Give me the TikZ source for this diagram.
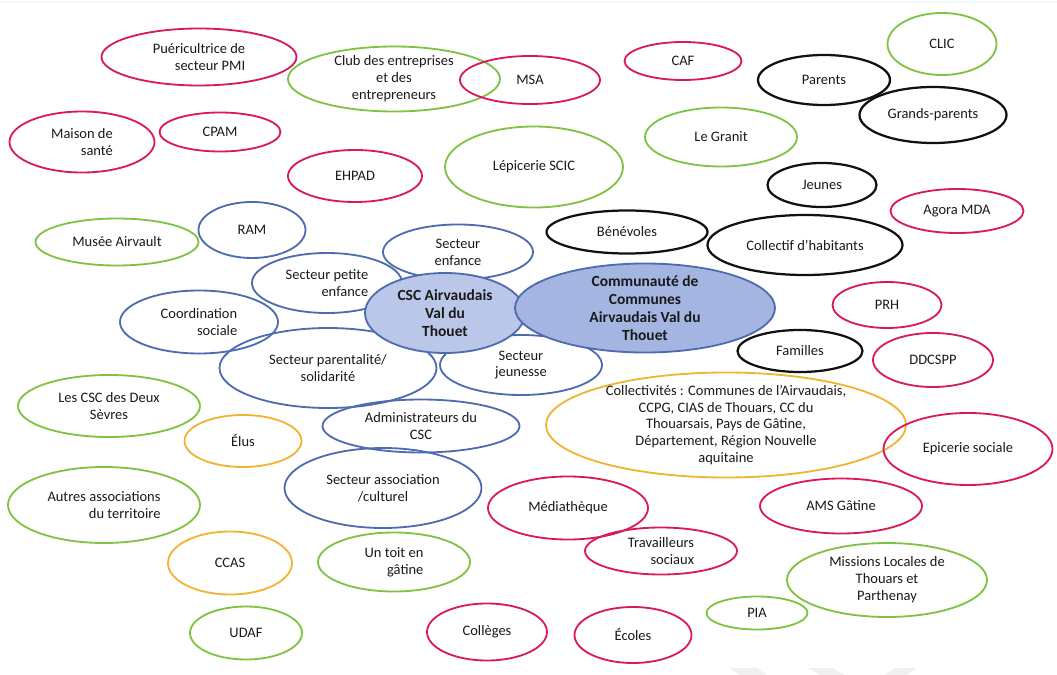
\documentclass[tikz,border=0pt]{standalone}
\usepackage{fontspec}
\setmainfont{Carlito}
\usepackage{xcolor}
\usetikzlibrary{shapes.geometric}
\definecolor{rosec}{HTML}{D9185F}
\definecolor{vertc}{HTML}{80C342}
\definecolor{bleuc}{HTML}{4F6BB0}
\definecolor{orangec}{HTML}{F0B432}
\definecolor{noirc}{HTML}{111111}
\definecolor{cscfill}{HTML}{BAC7E8}
\definecolor{ccfill}{HTML}{A3B5E0}
\tikzset{
    bubble/.style={ellipse, line width=1.3pt, inner xsep=0pt, inner ysep=-4pt, align=center, text=black!90, font=\fontsize{10.3}{12}\selectfont},
    wh/.style 2 args={minimum width=#1*0.025cm, minimum height=#2*0.025cm},
    rose/.style={bubble, draw=rosec},
    vert/.style={bubble, draw=vertc},
    bleu/.style={bubble, draw=bleuc},
    noir/.style={bubble, draw=noirc, line width=1.6pt},
    orange/.style={bubble, draw=orangec},
    core/.style={bubble, draw=bleuc, font=\fontsize{11}{12.8}\selectfont\bfseries},
}

\begin{document}
\begin{tikzpicture}[x=0.025cm, y=-0.025cm]
    \useasboundingbox (0,0) rectangle (1057,675);
    \draw[cyan!7, line width=1pt] (0,2) -- (1057,2);
    \fill[gray!12] (730,668) -- (757,668) -- (767,675) -- (740,675) -- cycle;
    \fill[gray!12] (808,668) -- (832,668) -- (845,675) -- (820,675) -- cycle;
    \fill[gray!12] (884,675) -- (895,668) -- (917,668) -- (906,675) -- cycle;

    \node[rose, wh={195}{57}, align=right] (puer) at (199,57) {Puéricultrice de\\secteur PMI};
    \node[vert, wh={212}{65}] (club) at (394,79) {Club des entreprises\\et des\\entrepreneurs};
    \node[rose, wh={140}{48}] (msa) at (530,80) {MSA};
    \node[rose, wh={117}{38}] (caf) at (683,61) {CAF};
    \node[vert, wh={109}{62}] (clic) at (942,44) {CLIC};
    \node[noir, wh={132}{50}] (parents) at (824,80) {Parents};
    \node[noir, wh={147}{56}] (grands) at (933,115) {Grands-parents};
    \node[rose, wh={145}{61}, align=right] (maison) at (82,142) {Maison de\\santé};
    \node[rose, wh={121}{39}] (cpam) at (220,132) {CPAM};
    \node[vert, wh={152}{59}] (granit) at (721,137) {Le Granit};
    \node[rose, wh={134}{52}] (ehpad) at (355,176) {EHPAD};
    \node[vert, wh={178}{81}] (scic) at (534,167) {Lépicerie SCIC};
    \node[noir, wh={109}{44}] (jeunes) at (822,185) {Jeunes};
    \node[rose, wh={133}{44}] (agora) at (957,211) {Agora MDA};
    \node[vert, wh={163}{47}] (musee) at (117,242) {Musée Airvault};
    \node[bleu, wh={107}{56}] (ram) at (252,230) {RAM};
    \node[noir, wh={161}{43}] (benevoles) at (627,232) {Bénévoles};
    \node[noir, wh={195}{60}] (collectif) at (805,245) {Collectif d’habitants};
    \node[bleu, wh={150}{55}] (enfance) at (458,252) {Secteur\\enfance};
    \node[bleu, wh={150}{60}, align=right] (petite) at (327,283) {Secteur petite\\enfance};
    \node[bleu, wh={158}{63}, align=right] (coord) at (199,322) {Coordination\\sociale};
    \node[rose, wh={109}{46}] (prh) at (887,305) {PRH};
    \node[bleu, wh={217}{80}] (parental) at (328,368) {Secteur parentalité/\\solidarité};
    \node[bleu, wh={162}{60}] (jeunesse) at (521,365) {Secteur\\jeunesse};
    \node[noir, wh={125}{42}] (familles) at (800,351) {Familles};
    \node[rose, wh={120}{54}] (ddcspp) at (933,360) {DDCSPP};
    \node[vert, wh={182}{62}] (deuxsevres) at (109,406) {Les CSC des Deux\\Sèvres};
    \node[bleu, wh={197}{53}] (admin) at (421,426) {Administrateurs du\\CSC};
    \node[orange, wh={117}{52}] (elus) at (243,441) {Élus};
    \node[orange, wh={360}{105}, inner ysep=-10pt] (collectivites) at (726,425) {Collectivités : Communes de l’Airvaudais,\\CCPG, CIAS de Thouars, CC du\\Thouarsais, Pays de Gâtine,\\Département, Région Nouvelle\\aquitaine};
    \node[rose, wh={169}{72}] (episoc) at (968,449) {Epicerie sociale};
    \node[bleu, wh={197}{80}] (asso) at (383,488) {Secteur association\\/culturel};
    \node[vert, wh={192}{76}, align=right] (autres) at (104,505) {Autres associations\\du territoire};
    \node[rose, wh={160}{63}] (media) at (568,508) {Médiathèque};
    \node[rose, wh={162}{55}] (ams) at (841,506) {AMS Gâtine};
    \node[orange, wh={124}{63}] (ccas) at (230,563) {CCAS};
    \node[vert, wh={152}{59}, align=right] (toit) at (394,562) {Un toit en\\gâtine};
    \node[rose, wh={152}{47}, align=right] (travail) at (661,551) {Travailleurs\\sociaux};
    \node[vert, wh={200}{74}] (missions) at (887,580) {Missions Locales de\\Thouars et\\Parthenay};
    \node[vert, wh={101}{33}] (pia) at (757,613) {PIA};
    \node[vert, wh={112}{53}] (udaf) at (246,633) {UDAF};
    \node[rose, wh={120}{57}] (colleges) at (487,632) {Collèges};
    \node[rose, wh={117}{56}] (ecoles) at (633,635) {Écoles};
    \node[core, fill=cscfill, wh={160}{80}] (csc) at (445,313) {CSC Airvaudais\\Val du\\Thouet};
    \node[core, fill=ccfill, wh={260}{89}, inner ysep=-9pt] (cc) at (645,308) {Communauté de\\Communes\\Airvaudais Val du\\Thouet};
\end{tikzpicture}
\end{document}
